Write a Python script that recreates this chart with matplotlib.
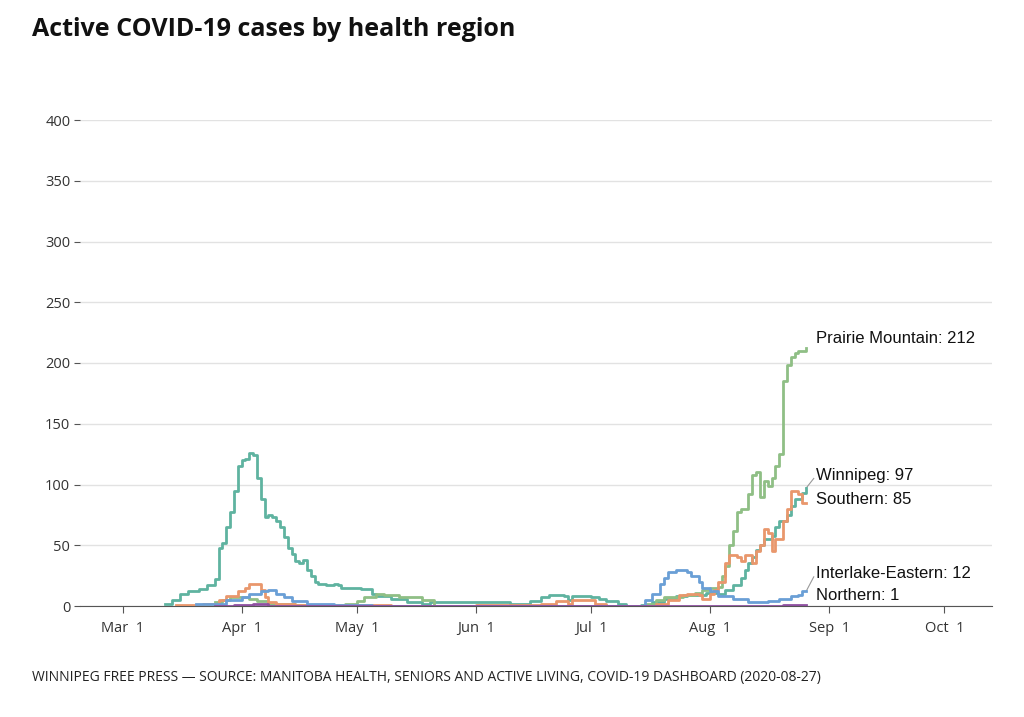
import matplotlib
matplotlib.use("Agg")
import matplotlib.pyplot as plt
import pandas as pd

winnipeg_d = ["03-12","03-14","03-16","03-18","03-21","03-23","03-25","03-26","03-27","03-28","03-29","03-30","03-31","04-01","04-02","04-03","04-04","04-05","04-06","04-07","04-08","04-09","04-10","04-11","04-12","04-13","04-14","04-15","04-16","04-17","04-18","04-19","04-20","04-21","04-23","04-25","04-26","04-27","05-02","05-05","05-06","05-10","05-14","05-18","05-20","06-10","06-15","06-18","06-20","06-24","06-25","06-26","07-01","07-03","07-05","07-08","07-10","07-14","07-17","07-20","07-23","07-26","07-31","08-03","08-05","08-07","08-09","08-10","08-11","08-12","08-13","08-14","08-15","08-17","08-18","08-19","08-21","08-22","08-23","08-25","08-26"]
winnipeg_v = [2,5,10,12,14,17,22,48,52,65,77,95,115,120,121,126,124,105,88,73,75,73,70,65,57,48,43,37,35,38,30,25,20,18,17,18,17,15,14,10,8,6,3,2,3,2,4,7,9,8,5,8,7,6,4,2,0,1,3,6,8,9,11,10,13,17,23,30,35,40,46,50,55,58,65,70,75,82,88,93,97]

prairie_d = ["03-25","03-27","03-29","04-03","04-05","04-08","04-15","04-28","05-01","05-03","05-06","05-08","05-12","05-18","05-21","07-10","07-15","07-18","07-20","07-25","07-28","07-30","08-01","08-03","08-04","08-05","08-06","08-07","08-08","08-09","08-11","08-12","08-13","08-14","08-15","08-16","08-17","08-18","08-19","08-20","08-21","08-22","08-23","08-24","08-26"]
prairie_v = [3,5,7,6,4,2,1,2,4,7,10,9,7,5,0,0,2,5,7,9,11,13,15,16,25,33,50,62,77,80,92,108,110,90,103,99,105,115,125,185,198,205,208,210,212]

southern_d = ["03-15","03-22","03-26","03-28","03-31","04-02","04-03","04-06","04-07","04-08","04-10","04-15","05-10","06-01","06-18","06-22","06-25","06-26","07-02","07-05","07-18","07-21","07-24","07-26","07-29","07-30","08-01","08-02","08-03","08-05","08-06","08-08","08-09","08-10","08-12","08-13","08-14","08-15","08-16","08-17","08-18","08-20","08-21","08-22","08-24","08-25","08-26"]
southern_v = [1,2,5,8,12,15,18,13,7,3,2,1,0,1,2,4,2,5,2,0,2,5,9,10,9,6,10,13,20,35,42,40,37,42,35,45,50,63,60,45,55,70,80,95,92,85,85]

interlake_d = ["03-20","03-28","04-01","04-03","04-06","04-08","04-10","04-12","04-14","04-18","04-25","05-05","07-12","07-15","07-17","07-19","07-20","07-21","07-23","07-26","07-27","07-29","07-30","08-01","08-03","08-07","08-11","08-16","08-19","08-22","08-24","08-25","08-26"]
interlake_v = [2,5,7,10,12,13,10,7,4,2,1,0,0,5,10,18,23,28,30,28,25,20,15,12,8,6,3,4,6,8,9,12,12]

northern_d = ["03-25","03-30","04-04","04-08","08-20","08-26"]
northern_v = [0,1,2,0,1,1]

series = [
    ("Winnipeg", winnipeg_d, winnipeg_v, "#5fb3a0"),
    ("Prairie Mountain", prairie_d, prairie_v, "#8fbf85"),
    ("Southern", southern_d, southern_v, "#e9976c"),
    ("Interlake-Eastern", interlake_d, interlake_v, "#6a9fd6"),
    ("Northern", northern_d, northern_v, "#8e4fa0"),
]

fig = plt.figure(figsize=(10.24, 7.17), dpi=100)
ax = fig.add_axes([80/1024, 111/717, 912/1024, 486/717])
for name, d, v, c in series:
    x = pd.to_datetime(["2020-" + s for s in d])
    ax.plot(x, v, drawstyle="steps-post", color=c, lw=2, zorder=3)

ax.set_xlim(pd.Timestamp("2020-02-18 22:00"), pd.Timestamp("2020-10-13 10:00"))
ax.set_ylim(0, 400)
ticks = pd.to_datetime(["2020-03-01","2020-04-01","2020-05-01","2020-06-01","2020-07-01","2020-08-01","2020-09-01","2020-10-01"])
ax.set_xticks(ticks)
ax.set_xticklabels(["Mar  1","Apr  1","May  1","Jun  1","Jul  1","Aug  1","Sep  1","Oct  1"], family="Open Sans", fontsize=10.5, color="#333333")
ax.set_yticks(range(0, 401, 50))
ax.set_yticklabels([str(v) for v in range(0, 401, 50)], family="Open Sans", fontsize=10.5, color="#333333")
ax.grid(axis="y", color="#e2e2e2", lw=1)
ax.set_axisbelow(True)
for s in ["top", "right", "left"]:
    ax.spines[s].set_visible(False)
ax.spines["bottom"].set_color("#555555")
ax.tick_params(axis="y", length=4, color="#555555", pad=3)
ax.tick_params(axis="x", length=5, color="#555555", pad=6)

lab = dict(family="Liberation Sans", fontsize=12, color="#111111", va="center")
xl = pd.Timestamp("2020-08-28 12:00")
ax.text(xl, 220, "Prairie Mountain: 212", **lab)
ax.text(xl, 107, "Winnipeg: 97", **lab)
ax.text(xl, 88, "Southern: 85", **lab)
ax.text(xl, 27, "Interlake-Eastern: 12", **lab)
ax.text(xl, 9, "Northern: 1", **lab)
ax.plot([pd.Timestamp("2020-08-26"), pd.Timestamp("2020-08-28")], [97, 105], color="#999999", lw=0.8)
ax.plot([pd.Timestamp("2020-08-26"), pd.Timestamp("2020-08-28")], [12, 24], color="#999999", lw=0.8)

fig.text(32/1024, 1 - 30/717, "Active COVID-19 cases by health region", family="Open Sans", fontweight="bold", fontsize=18, va="center", color="#111111")
fig.text(32/1024, 1 - 677/717, "WINNIPEG FREE PRESS — SOURCE: MANITOBA HEALTH, SENIORS AND ACTIVE LIVING, COVID-19 DASHBOARD (2020-08-27)", family="Open Sans", fontsize=10, va="center", color="#222222")
fig.savefig("out.png", dpi=100)
